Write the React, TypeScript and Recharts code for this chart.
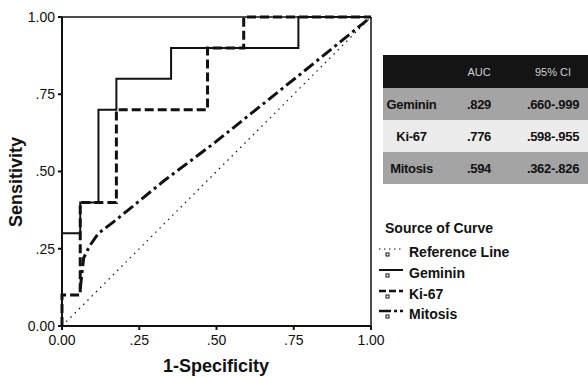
import { LineChart, Line, XAxis, YAxis, ReferenceLine } from 'recharts';

// ROC curve points (1-specificity, sensitivity)
const referencePoints = [
  { x: 0, y: 0 },
  { x: 1, y: 1 },
];

const gemininPoints = [
  { x: 0, y: 0 },
  { x: 0, y: 0.3 },
  { x: 0.059, y: 0.3 },
  { x: 0.059, y: 0.4 },
  { x: 0.118, y: 0.4 },
  { x: 0.118, y: 0.7 },
  { x: 0.176, y: 0.7 },
  { x: 0.176, y: 0.8 },
  { x: 0.353, y: 0.8 },
  { x: 0.353, y: 0.9 },
  { x: 0.765, y: 0.9 },
  { x: 0.765, y: 1 },
  { x: 1, y: 1 },
];

const ki67Points = [
  { x: 0, y: 0 },
  { x: 0, y: 0.1 },
  { x: 0.059, y: 0.1 },
  { x: 0.059, y: 0.4 },
  { x: 0.176, y: 0.4 },
  { x: 0.176, y: 0.7 },
  { x: 0.471, y: 0.7 },
  { x: 0.471, y: 0.9 },
  { x: 0.588, y: 0.9 },
  { x: 0.588, y: 1 },
  { x: 1, y: 1 },
];

const mitosisPoints = [
  { x: 0.059, y: 0.12 },
  { x: 0.07, y: 0.22 },
  { x: 0.09, y: 0.26 },
  { x: 0.118, y: 0.3 },
  { x: 0.176, y: 0.344 },
  { x: 0.33, y: 0.47 },
  { x: 0.49, y: 0.59 },
  { x: 0.79, y: 0.83 },
  { x: 1, y: 1 },
];

const axisTicks = [0, 0.25, 0.5, 0.75, 1];
const tickLabels = ['0.00', '.25', '.50', '.75', '1.00'];

const tableHeader = ['', 'AUC', '95% CI'];
const tableNames = ['Geminin', 'Ki-67', 'Mitosis'];
const tableAuc = ['.829', '.776', '.594'];
const tableCi = ['.660-.999', '.598-.955', '.362-.826'];

const legendNames = ['Reference Line', 'Geminin', 'Ki-67', 'Mitosis'];
const legendDash = ['1.5 3.5', '', '7 3', '12 3 3 3'];
const legendWidth = [1.2, 2, 2.5, 2.5];

const FONT = '"Liberation Sans", Arial, sans-serif';

const fmt = (v: number) => tickLabels[axisTicks.indexOf(v)] ?? String(v);

const rowBg = ['#a4a4a4', '#ececec', '#a4a4a4'];
const colW = [57, 78, 70];

const StatsTable = () => (
  <div style={{ position: 'absolute', left: 383, top: 55, width: 205, fontFamily: FONT }}>
    <div style={{ display: 'flex', height: 33, background: '#141414', color: '#cfcfcf', fontSize: 11, alignItems: 'center' }}>
      {tableHeader.map((h, i) => (
        <div key={i} style={{ width: colW[i], textAlign: 'center' }}>{h}</div>
      ))}
    </div>
    {tableNames.map((n, r) => (
      <div key={n} style={{ display: 'flex', height: 32, background: rowBg[r], alignItems: 'center', fontWeight: 'bold', fontSize: 13, color: '#111', letterSpacing: -0.3 }}>
        <div style={{ width: colW[0], textAlign: 'center' }}>{n}</div>
        <div style={{ width: colW[1], textAlign: 'center' }}>{tableAuc[r]}</div>
        <div style={{ width: colW[2], textAlign: 'center' }}>{tableCi[r]}</div>
      </div>
    ))}
  </div>
);

const CurveLegend = () => (
  <div style={{ position: 'absolute', left: 379, top: 218, width: 200, fontFamily: FONT, fontWeight: 'bold', fontSize: 14, color: '#111' }}>
    <div style={{ marginLeft: 6, height: 24, lineHeight: '20px' }}>Source of Curve</div>
    {legendNames.map((n, i) => (
      <div key={n} style={{ display: 'flex', alignItems: 'center', height: 20.7 }}>
        <svg width={30} height={18}>
          <line x1={0} x2={24} y1={6} y2={6} stroke="#111" strokeWidth={legendWidth[i]} strokeDasharray={legendDash[i] || undefined} />
          <rect x={7} y={10} width={3} height={3} fill="none" stroke="#111" strokeWidth={1} />
        </svg>
        <span>{n}</span>
      </div>
    ))}
  </div>
);

export default function App() {
  return (
    <div style={{ position: 'absolute', left: 0, top: 0, width: 588, height: 377, background: '#fff' }}>
      <LineChart width={588} height={377} margin={{ top: 17, right: 217, bottom: 21, left: 0 }}>
        <XAxis
          type="number"
          dataKey="x"
          domain={[0, 1]}
          ticks={axisTicks}
          tickFormatter={fmt}
          height={30}
          tickSize={4}
          tickMargin={5}
          stroke="#111"
          strokeWidth={2}
          tick={{ fill: '#111', fontSize: 14, fontFamily: FONT }}
          label={() => (
            <text x={216} y={366} textAnchor="middle" dominantBaseline="central" fontFamily={FONT} fontWeight="bold" fontSize={18} fill="#111">
              1-Specificity
            </text>
          )}
        />
        <YAxis
          type="number"
          dataKey="y"
          domain={[0, 1]}
          ticks={axisTicks}
          tickFormatter={fmt}
          width={62}
          tickSize={4}
          tickMargin={3}
          stroke="#111"
          strokeWidth={2}
          tick={{ fill: '#111', fontSize: 14, fontFamily: FONT }}
          label={() => (
            <text x={16} y={182} transform="rotate(-90 16 182)" textAnchor="middle" dominantBaseline="central" fontFamily={FONT} fontWeight="bold" fontSize={18} fill="#111">
              Sensitivity
            </text>
          )}
        />
        <ReferenceLine y={1} stroke="#111" strokeWidth={1.5} />
        <ReferenceLine x={1} stroke="#111" strokeWidth={1.5} />
        <Line data={referencePoints} dataKey="y" type="linear" stroke="#111" strokeWidth={1.2} strokeDasharray="1.5 4.5" dot={false} isAnimationActive={false} />
        <Line data={mitosisPoints} dataKey="y" type="linear" stroke="#111" strokeWidth={3} strokeDasharray="12 4 3 4" dot={false} isAnimationActive={false} />
        <Line data={ki67Points} dataKey="y" type="linear" stroke="#111" strokeWidth={3} strokeDasharray="9 4" dot={false} isAnimationActive={false} />
        <Line data={gemininPoints} dataKey="y" type="linear" stroke="#111" strokeWidth={2} dot={false} isAnimationActive={false} />
      </LineChart>
      <CurveLegend />
      <StatsTable />
    </div>
  );
}
